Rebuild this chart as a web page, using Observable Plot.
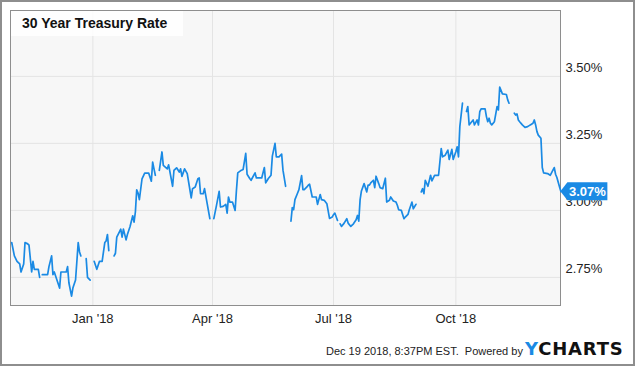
<!DOCTYPE html>
<html>
<head>
<meta charset="utf-8">
<script src="https://cdn.jsdelivr.net/npm/d3@7"></script>
<script src="https://cdn.jsdelivr.net/npm/@observablehq/plot@0.6"></script>
<style>
  html, body { margin: 0; padding: 0; background: #fff; }
  #wrap { position: relative; width: 635px; height: 366px; overflow: hidden; font-family: "Liberation Sans", Arial, sans-serif; }
  #border { position: absolute; left: 0; top: 0; width: 635px; height: 366px; box-sizing: border-box; border: 2px solid #8e8e8e; pointer-events: none; }
  #title { position: absolute; left: 11px; top: 11px; width: 172px; height: 25px; background: rgba(255,255,255,0.82); font-weight: bold; font-size: 14px; line-height: 25px; padding-left: 11px; box-sizing: border-box; color: #111; }
  #footer { position: absolute; left: 326px; top: 344px; font-size: 11px; line-height: 14px; color: #222; white-space: pre; }
  #logo { position: absolute; left: 525px; top: 338px; font-family: "DejaVu Sans", sans-serif; font-weight: bold; font-size: 18px; line-height: 22px; letter-spacing: 0.8px; color: #111; }
  #logo .y { color: #1a8ae4; }
  svg { position: absolute; left: 0; top: 0; }
</style>
</head>
<body>
<div id="wrap">
  <div id="chart"></div>
  <div id="title">30 Year Treasury Rate</div>
  <div id="footer">Dec 19 2018, 8:37PM EST.  Powered by</div>
  <div id="logo"><span class="y">Y</span>CHARTS</div>
  <div id="border"></div>
</div>
<script>
const dates = [
"2017-11-01","2017-11-03","2017-11-05","2017-11-07","2017-11-08","2017-11-10","2017-11-11","2017-11-13","2017-11-14","2017-11-16",
"2017-11-17","2017-11-18","2017-11-21","2017-11-22","2017-11-23","2017-11-24","2017-11-28","2017-11-29","2017-12-01","2017-12-02",
"2017-12-03","2017-12-05","2017-12-07","2017-12-08","2017-12-10","2017-12-12","2017-12-13","2017-12-14","2017-12-16","2017-12-17",
"2017-12-19","2017-12-21","2017-12-22","2017-12-23","2017-12-25","2017-12-27","2017-12-28","2017-12-30","2018-01-01","2018-01-02",
"2018-01-04","2018-01-06","2018-01-08","2018-01-10","2018-01-11","2018-01-12","2018-01-13","2018-01-15","2018-01-17","2018-01-18",
"2018-01-19","2018-01-21","2018-01-22","2018-01-23","2018-01-24","2018-01-26","2018-01-27","2018-01-29","2018-01-31","2018-02-01",
"2018-02-02","2018-02-03","2018-02-04","2018-02-05","2018-02-07","2018-02-09","2018-02-12","2018-02-14","2018-02-15","2018-02-16",
"2018-02-17","2018-02-19","2018-02-20","2018-02-22","2018-02-23","2018-02-26","2018-02-27","2018-03-02","2018-03-03","2018-03-05",
"2018-03-07","2018-03-08","2018-03-09","2018-03-11","2018-03-13","2018-03-15","2018-03-16","2018-03-17","2018-03-19","2018-03-21",
"2018-03-22","2018-03-23","2018-03-25","2018-03-26","2018-03-28","2018-03-30","2018-03-31","2018-04-02","2018-04-04","2018-04-06",
"2018-04-07","2018-04-09","2018-04-11","2018-04-12","2018-04-13","2018-04-14","2018-04-16","2018-04-18","2018-04-19","2018-04-20",
"2018-04-22","2018-04-24","2018-04-26","2018-04-27","2018-04-29","2018-04-30","2018-05-03","2018-05-04","2018-05-08","2018-05-10",
"2018-05-11","2018-05-13","2018-05-15","2018-05-16","2018-05-18","2018-05-19","2018-05-21","2018-05-23","2018-05-24","2018-05-26",
"2018-05-28","2018-05-30","2018-05-31","2018-06-01","2018-06-02","2018-06-04","2018-06-05","2018-06-07","2018-06-08","2018-06-09",
"2018-06-11","2018-06-12","2018-06-13","2018-06-15","2018-06-18","2018-06-19","2018-06-21","2018-06-22","2018-06-24","2018-06-26",
"2018-06-28","2018-06-30","2018-07-01","2018-07-02","2018-07-04","2018-07-05","2018-07-06","2018-07-07","2018-07-09","2018-07-11",
"2018-07-12","2018-07-14","2018-07-16","2018-07-18","2018-07-19","2018-07-20","2018-07-21","2018-07-22","2018-07-24","2018-07-26",
"2018-07-27","2018-07-28","2018-07-29","2018-07-31","2018-08-01","2018-08-02","2018-08-04","2018-08-05","2018-08-07","2018-08-09",
"2018-08-10","2018-08-12","2018-08-13","2018-08-15","2018-08-17","2018-08-18","2018-08-19","2018-08-21","2018-08-23","2018-08-24",
"2018-08-26","2018-08-27","2018-08-29","2018-08-30","2018-09-01","2018-09-03","2018-09-05","2018-09-06","2018-09-07","2018-09-08",
"2018-09-10","2018-09-11","2018-09-12","2018-09-13","2018-09-15","2018-09-18","2018-09-20","2018-09-21","2018-09-23","2018-09-25",
"2018-09-26","2018-09-28","2018-09-29","2018-10-01","2018-10-02","2018-10-03","2018-10-04","2018-10-06","2018-10-08","2018-10-09",
"2018-10-10","2018-10-11","2018-10-12","2018-10-14","2018-10-15","2018-10-17","2018-10-18","2018-10-19","2018-10-20","2018-10-23",
"2018-10-24","2018-10-25","2018-10-26","2018-10-27","2018-10-28","2018-10-30","2018-11-01","2018-11-02","2018-11-03","2018-11-05",
"2018-11-08","2018-11-09","2018-11-10","2018-11-12","2018-11-14","2018-11-15","2018-11-16","2018-11-17","2018-11-18","2018-11-20",
"2018-11-22","2018-11-24","2018-11-26","2018-11-28","2018-11-29","2018-11-30","2018-12-01","2018-12-02","2018-12-04","2018-12-05",
"2018-12-06","2018-12-09","2018-12-11","2018-12-13","2018-12-14","2018-12-15","2018-12-16","2018-12-18","2018-12-19"
];
const rates = [
2.88,2.83,2.81,2.80,2.77,2.80,2.88,2.875,2.87,2.77,
2.81,2.78,2.78,2.75,null,2.76,2.76,2.79,2.83,2.76,
2.77,2.74,2.71,2.77,2.77,2.77,2.79,2.73,2.68,2.71,
2.74,2.88,2.845,2.83,null,2.82,2.75,2.74,null,2.81,
2.78,2.81,2.81,2.88,2.886,2.91,2.85,null,2.83,2.84,
2.90,2.92,2.93,2.90,2.93,2.89,2.91,2.94,2.98,2.956,
2.994,3.077,3.065,3.04,3.118,3.139,3.139,3.109,3.18,3.155,
3.131,null,3.149,3.218,3.168,3.155,3.17,3.09,3.149,3.159,
3.143,3.155,3.127,3.155,3.137,3.077,3.047,3.081,3.087,3.118,
3.121,3.062,3.062,3.081,3.025,2.969,null,2.969,3.019,3.071,
3.0125,3.015,3.0225,2.99,3.05,3.031,3.031,3.0,3.075,3.14,
3.1475,3.1525,3.2125,3.135,3.119,3.1125,3.14,3.121,3.121,3.16,
3.1025,3.119,3.131,3.2025,3.25,3.2,3.2,3.21,3.15,3.09,
null,2.96,3.01,3.0025,3.04,3.065,3.0775,3.13,3.0775,3.0775,
3.0875,3.094,3.0975,3.05,3.05,3.0225,3.059,3.04,3.0375,3.025,
2.97,2.975,2.984,2.99,2.9625,null,2.95,2.94,2.9525,2.969,
2.9525,2.94,2.95,2.965,2.981,2.96,3.04,3.0725,3.1,3.069,
3.094,3.094,3.1025,3.1125,3.085,3.1275,3.1,3.085,3.081,3.12,
3.031,3.0375,3.05,3.035,3.031,3.019,3.0025,3.0,2.969,2.975,
2.985,3.0025,3.031,3.006,3.0225,null,3.069,3.081,3.0625,3.1125,
3.09,3.11,3.131,3.11,3.131,3.131,3.231,3.2,3.206,3.225,
3.19,3.2275,3.19,3.219,3.2375,3.2,3.3125,3.4,null,3.369,
3.3875,3.319,3.325,3.3375,3.319,3.3375,3.319,3.369,3.379,3.379,
3.35,3.331,3.344,3.325,3.319,3.331,3.3875,3.375,3.46,3.435,
3.4325,3.4125,3.40,null,3.3625,3.356,3.36,3.3375,3.331,3.319,
3.31,3.3125,3.319,3.325,3.3375,3.319,3.294,3.281,3.269,3.16,
3.14,3.1375,3.131,3.15,3.16,3.135,3.1225,3.0875,3.07
];
const yTicks = [2.75, 3.00, 3.25, 3.50];
const yLabels = ["2.75%", "3.00%", "3.25%", "3.50%"];
const xTicks = ["2018-01-01", "2018-04-01", "2018-07-01", "2018-10-01"];
const xLabels = ["Jan '18", "Apr '18", "Jul '18", "Oct '18"];

const blue = "#1a8ae4";
const data = dates.map((d, i) => ({date: new Date(d), rate: rates[i]}));
const xTickDates = xTicks.map(d => new Date(d));
const xLabelMap = new Map(xTickDates.map((d, i) => [+d, xLabels[i]]));
const last = data[data.length - 1];
const lastLabel = d3.format(".2f")(last.rate) + "%";

function tag(...args) {
  const scales = args.find(a => a && typeof a.x === "function" && typeof a.y === "function");
  const px = scales.x(last.date), py = scales.y(last.rate);
  const g = d3.create("svg:g");
  g.append("path")
    .attr("d", `M${px},${py}L${px + 7},${py - 9}H${px + 47}V${py + 9}H${px + 7}Z`)
    .attr("fill", blue);
  g.append("text")
    .attr("x", px + 27).attr("y", py).attr("dy", "0.36em")
    .attr("text-anchor", "middle").attr("fill", "#fff")
    .attr("font-weight", "bold").attr("font-size", 13)
    .text(lastLabel);
  return g.node();
}

const chart = Plot.plot({
  width: 635,
  height: 366,
  marginLeft: 10,
  marginRight: 75,
  marginTop: 10,
  marginBottom: 61,
  style: {fontFamily: "'Liberation Sans', Arial, sans-serif", fontSize: "13px", color: "#222", background: "transparent", overflow: "visible"},
  x: {type: "utc", label: null, domain: [new Date("2017-10-31T02:00Z"), new Date("2018-12-18T17:00Z")]},
  y: {label: null, domain: [2.645, 3.746]},
  marks: [
    Plot.frame({fill: "#f7f7f7", stroke: null}),
    Plot.gridX(xTickDates, {stroke: "#e4e4e4", strokeOpacity: 1}),
    Plot.gridY(yTicks, {stroke: "#e4e4e4", strokeOpacity: 1}),
    Plot.frame({stroke: "#8e8e8e"}),
    Plot.line(data, {x: "date", y: "rate", stroke: blue, strokeWidth: 1.7}),
    Plot.axisX(xTickDates, {label: null, tickSize: 0, tickPadding: 8, tickFormat: d => xLabelMap.get(+d), fontSize: 13}),
    Plot.axisY(yTicks, {label: null, anchor: "right", tickSize: 0, tickPadding: 5, dy: -9, textAnchor: "start", tickFormat: d => yLabels[yTicks.indexOf(d)], fontSize: 13}),
    tag
  ]
});
document.getElementById("chart").appendChild(chart);
</script>
</body>
</html>
